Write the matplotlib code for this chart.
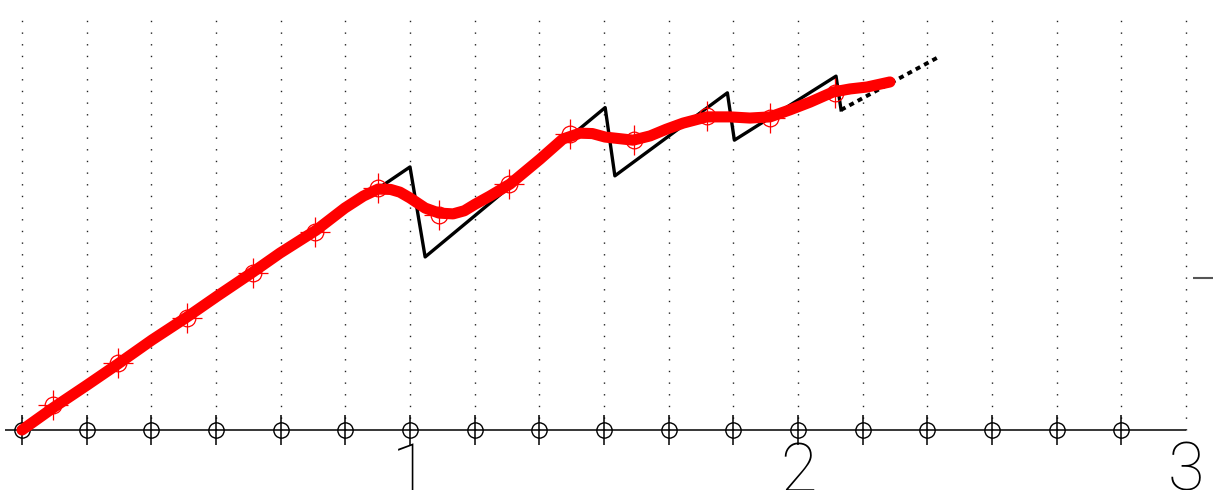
import matplotlib
matplotlib.use("Agg")
import matplotlib.pyplot as plt
import numpy as np

plt.rcParams['lines.scale_dashes'] = False

# axis sample points (every 1/6) and grid
axis_x = np.arange(18) / 6.0
grid_x = np.arange(19) / 6.0
axis_span = [-0.044, 3.0]
grid_top = 1.072

# black sawtooth (solid part, then dashed tail)
saw_x = [0.0, 1.0, 1.039, 1.503, 1.528, 1.818, 1.836, 2.098, 2.111]
saw_y = [0.0, 0.678, 0.446, 0.831, 0.655, 0.869, 0.747, 0.912, 0.825]
tail_x = [2.111, 2.358]
tail_y = [0.825, 0.959]

# thick red fitted curve
fit_x = [0.0, 0.080, 0.168, 0.247, 0.335, 0.425, 0.503, 0.595, 0.665, 0.758,
         0.832, 0.880, 0.918, 0.950, 0.974, 1.000, 1.039, 1.075, 1.111, 1.140,
         1.168, 1.206, 1.258, 1.335, 1.394, 1.438, 1.470, 1.503, 1.575, 1.619,
         1.660, 1.704, 1.765, 1.825, 1.876, 1.928, 1.979, 2.031, 2.090, 2.134,
         2.178, 2.237]
fit_y = [0.0, 0.057, 0.116, 0.170, 0.232, 0.291, 0.345, 0.407, 0.456, 0.515,
         0.572, 0.603, 0.621, 0.620, 0.613, 0.598, 0.572, 0.559, 0.557, 0.565,
         0.582, 0.603, 0.634, 0.698, 0.750, 0.765, 0.764, 0.755, 0.747, 0.758,
         0.775, 0.791, 0.807, 0.807, 0.804, 0.807, 0.825, 0.845, 0.871, 0.879,
         0.884, 0.897]

# red sample markers
pts_x = [0.080, 0.247, 0.425, 0.595, 0.755, 0.918, 1.075, 1.255, 1.412,
         1.577, 1.765, 1.928, 2.095]
pts_y = [0.064, 0.173, 0.289, 0.405, 0.510, 0.624, 0.554, 0.634, 0.763,
         0.747, 0.809, 0.804, 0.869]

tick_labels = ["1", "2", "3"]
tick_pos = [1, 2, 3]
right_tick = 0.392

fig = plt.figure(figsize=(12.13, 4.9), dpi=100)
ax = fig.add_axes([0, 0, 1, 1])
ax.set_xlim(-22 / 388, (1213 - 22) / 388)
ax.set_ylim(-60 / 388, 430 / 388)

# dotted vertical grid
for gx in grid_x:
    ax.plot([gx, gx], [0, grid_top], color='#222222', linewidth=1.0,
            dashes=(1.0, 7.4), dash_capstyle='butt')

# x axis with circle/tick markers
ax.hlines(0, axis_span[0], axis_span[1], colors='black', linewidth=1.1)
ax.plot(axis_x, np.zeros_like(axis_x), linestyle='none', marker='o', ms=11,
        mfc='none', mec='black', mew=1.0)
ax.plot(axis_x, np.zeros_like(axis_x), linestyle='none', marker='|', ms=22,
        mec='black', mew=1.1)

for x, lab in zip(tick_pos, tick_labels):
    ax.text(x, -0.157, lab, ha='center', va='baseline', fontsize=48,
            family='Roboto', fontweight=100, color='black')

# sawtooth
ax.plot(saw_x, saw_y, color='black', linewidth=2.4)
ax.plot(tail_x, tail_y, color='black', linewidth=2.8, dashes=(3.6, 3.2))

# red curve and markers
ax.plot(fit_x, fit_y, color='red', linewidth=8, solid_capstyle='round',
        solid_joinstyle='round')
ax.plot(pts_x, pts_y, linestyle='none', marker='+', ms=22, mec='red', mew=0.9)
ax.plot(pts_x, pts_y, linestyle='none', marker='o', ms=12, mfc='none',
        mec='red', mew=0.9)

for s in ax.spines.values():
    s.set_visible(False)
ax.set_xticks([])
ax.set_yticks([right_tick])
ax.tick_params(axis='y', left=False, right=True, labelleft=False,
               labelright=False, direction='in', length=14.4, width=1.5,
               color='#555555')

plt.savefig('out.png', dpi=100)
plt.close()
